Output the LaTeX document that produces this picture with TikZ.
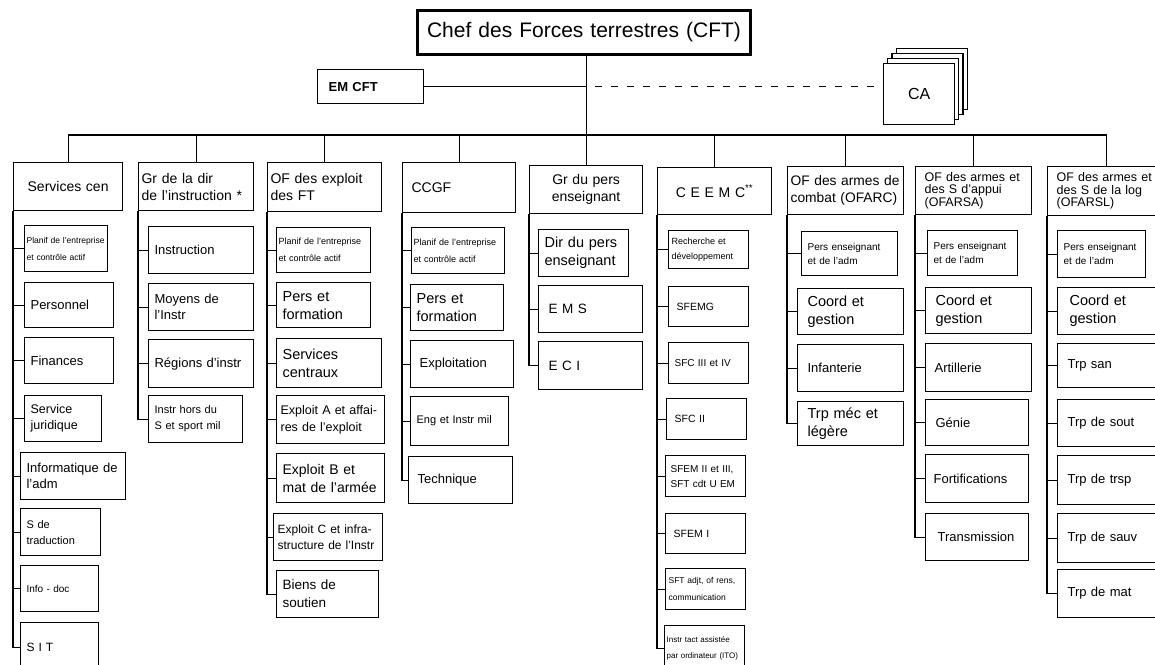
\documentclass[tikz,border=0pt]{standalone}
\usepackage{fontspec}
\setmainfont{Liberation Sans}

\begin{document}
\begin{tikzpicture}[x=1pt, y=-1pt,
  box/.style={draw, line width=1.2pt, anchor=north west, inner ysep=0pt, align=left},
  unit/.style 2 args={box, minimum width=#1, minimum height=#2, text width=#1-12, inner xsep=6pt, font=\fontsize{13}{16}\selectfont},
  tinyunit/.style 2 args={box, minimum width=#1, minimum height=#2, text width=#1-4, inner xsep=2pt, font=\fontsize{8.5}{17}\selectfont},
  head/.style 2 args={box, minimum width=#1, minimum height=#2, text width=#1-6, inner xsep=3pt, font=\fontsize{14}{17}\selectfont},
  fs/.style 2 args={font=\fontsize{#1}{#2}\selectfont},
  link/.style={line width=1.2pt}]
\useasboundingbox (0,0) rectangle (1155,664);
\clip (0,0) rectangle (1155,664);

% top of the chart
\node[box, line width=3pt, minimum width=333, minimum height=44, text width=323, align=center, fs={21}{24}] (u100) at (416,9) {Chef des Forces terrestres (CFT)};
\node[unit={106}{34}, fs={13}{15}, inner xsep=11pt, text width=84] (u101) at (317,69) {\bfseries EM CFT};
\foreach \d in {3,2,1}
  \draw[line width=1.1pt, fill=white] (883+4.5*\d,63-4.7*\d) rectangle ++(71,61);
\node[unit={71}{61}, fill=white, align=center, fs={16}{18}] (u102) at (883,63) {CA};
\coordinate (bus) at (0,135);

% column heads
\node[head={109}{48}, align=center] (u10) at (13,162) {Services cen};
\node[head={115}{48}] (u20) at (138,162) {Gr de la dir\\de l'instruction *};
\node[head={114}{49}] (u30) at (267,162) {OF des exploit\\des FT};
\node[head={113}{50}, inner xsep=9pt, text width=95] (u40) at (402,162) {CCGF};
\node[head={113}{48}, align=center] (u50) at (529,165) {Gr du pers\\enseignant};
\node[head={114}{47}, align=center] (u60) at (657,167) {C E E M C\textsuperscript{**}};
\node[head={116}{48}, fs={13.8}{17}] (u70) at (787,166) {OF des armes de\\combat (OFARC)};
\node[head={116}{48}, fs={12.5}{12.5}, inner xsep=9pt, text width=98] (u80) at (915,166) {OF des armes et\\des S d'appui\\(OFARSA)};
\node[head={118}{49}, fs={12.5}{12.5}, inner xsep=9pt, text width=100] (u90) at (1047,166) {OF des armes et\\des S de la log\\(OFARSL)};

% Services cen
\node[tinyunit={83}{46}] (u11) at (24,225) {Planif de l'entreprise\\et contrôle actif};
\node[unit={89}{45}] (u12) at (24,282) {Personnel};
\node[unit={89}{46}] (u13) at (24,337) {Finances};
\node[unit={77}{46}, fs={12.5}{16}] (u14) at (24,395) {Service\\juridique};
\node[unit={105}{47}] (u15) at (20,452) {Informatique de\\l'adm};
\node[unit={80}{47}, fs={11}{16}] (u16) at (20,508) {S de\\traduction};
\node[unit={78}{46}, fs={10}{12}] (u17) at (20,565) {Info - doc};
\node[unit={78}{50}, fs={12}{14}] (u18) at (20,622) {S I T};

% Gr de la dir de l'instruction
\node[unit={105}{47}] (u21) at (148,226) {Instruction};
\node[unit={105}{47}] (u22) at (148,283) {Moyens de\\l'Instr};
\node[unit={105}{48}] (u23) at (148,339) {Régions d'instr};
\node[unit={94}{47}, fs={11}{16}] (u24) at (148,395) {Instr hors du\\S et sport mil};

% OF des exploit des FT
\node[tinyunit={94}{45}, fs={9}{17}] (u31) at (276,227) {Planif de l'entreprise\\et contrôle actif};
\node[unit={94}{45}, fs={14.5}{18}] (u32) at (276,282) {Pers et\\formation};
\node[unit={105}{49}, fs={14.5}{18}] (u33) at (276,338) {Services\\centraux};
\node[unit={108}{48}, fs={12.5}{17}, inner xsep=4pt, text width=100] (u34) at (276,395) {Exploit A et affai-\\res de l'exploit};
\node[unit={108}{49}, fs={14}{18}] (u35) at (276,453) {Exploit B et\\mat de l'armée};
\node[unit={109}{47}, fs={12}{16}, inner xsep=4pt, text width=101] (u36) at (273,513) {Exploit C et infra-\\structure de l'Instr};
\node[unit={102}{47}, fs={13.5}{18}] (u37) at (276,570) {Biens de\\soutien};

% CCGF
\node[tinyunit={93}{46}, fs={9}{17}] (u41) at (411,227) {Planif de l'entreprise\\et contrôle actif};
\node[unit={93}{46}, fs={14.5}{18}] (u42) at (410,284) {Pers et\\formation};
\node[unit={103}{47}, inner xsep=9pt, text width=85] (u43) at (410,340) {Exploitation};
\node[unit={98}{49}, fs={11}{14}] (u44) at (410,396) {Eng et Instr mil};
\node[unit={104}{47}, inner xsep=9pt, text width=86] (u45) at (408,456) {Technique};

% Gr du pers enseignant
\node[unit={90}{47}, fs={14.5}{18}] (u51) at (538,229) {Dir du pers\\enseignant};
\node[unit={104}{47}, fs={13.5}{16}, inner xsep=10pt, text width=84] (u52) at (538,285) {E M S};
\node[unit={104}{48}, fs={13.5}{16}, inner xsep=10pt, text width=84] (u53) at (538,341) {E C I};

% CEEMC
\node[tinyunit={80}{38}, fs={9}{15}, inner xsep=3pt, text width=74] (u61) at (668,230) {Recherche et\\développement};
\node[unit={80}{40}, fs={10.5}{13}, inner xsep=8pt, text width=64] (u62) at (668,286) {SFEMG};
\node[unit={80}{41}, fs={10}{13}] (u63) at (668,342) {SFC III et IV};
\node[unit={80}{41}, fs={10.5}{13}, inner xsep=8pt, text width=64] (u64) at (666,398) {SFC II};
\node[unit={80}{41}, fs={10}{15}, inner xsep=5pt, text width=70] (u65) at (665,455) {SFEM II et III,\\SFT cdt U EM};
\node[unit={80}{40}, fs={10.5}{13}, inner xsep=8pt, text width=64] (u66) at (665,513) {SFEM I};
\node[tinyunit={80}{41}, inner xsep=3pt, text width=74] (u67) at (665,568) {SFT adjt, of rens,\\communication};
\node[tinyunit={80}{45}, fs={8}{16}] (u68) at (664,625) {Instr tact assistée\\par ordinateur (ITO)};

% OFARC
\node[unit={96}{44}, fs={10}{14}] (u71) at (801,231) {Pers enseignant\\et de l'adm};
\node[unit={106}{46}, fs={14.5}{18}, inner xsep=10pt, text width=86] (u72) at (797,288) {Coord et\\gestion};
\node[unit={106}{47}, inner xsep=10pt, text width=86] (u73) at (797,344) {Infanterie};
\node[unit={106}{44}, fs={14.5}{18}, inner xsep=10pt, text width=86] (u74) at (797,401) {Trp méc et\\légère};

% OFARSA
\node[unit={90}{45}, fs={10}{14}] (u81) at (927,230) {Pers enseignant\\et de l'adm};
\node[unit={106}{46}, fs={14.5}{18}, inner xsep=10pt, text width=86] (u82) at (925,287) {Coord et\\gestion};
\node[unit={106}{48}, inner xsep=9pt, text width=88] (u83) at (925,343) {Artillerie};
\node[unit={103}{46}, inner xsep=10pt, text width=83] (u84) at (925,399) {Génie};
\node[unit={103}{48}, inner xsep=8pt, text width=87] (u85) at (925,454) {Fortifications};
\node[unit={103}{47}, inner xsep=12pt, text width=79] (u86) at (925,513) {Transmission};

% OFARSL
\node[unit={88}{47}, fs={10}{14}] (u91) at (1057,230) {Pers enseignant\\et de l'adm};
\node[unit={110}{47}, fs={14.5}{18}, inner xsep=12pt, text width=86] (u92) at (1057,287) {Coord et\\gestion};
\node[unit={110}{44}, inner xsep=10pt, text width=90] (u93) at (1057,343) {Trp san};
\node[unit={110}{47}, inner xsep=10pt, text width=90] (u94) at (1057,399) {Trp de sout};
\node[unit={110}{49}, inner xsep=10pt, text width=90] (u95) at (1057,455) {Trp de trsp};
\node[unit={110}{49}, inner xsep=10pt, text width=90] (u96) at (1057,513) {Trp de sauv};
\node[unit={110}{48}, inner xsep=10pt, text width=90] (u97) at (1057,569) {Trp de mat};

% connectors
\draw[link] (u10.north |- bus) -- (u90.north |- bus);
\draw[link] (u100.south -| u50.north) -- (u50.north);
\draw[link] (u101.east) -- (u101.east -| u50.north);
\draw[link, dash pattern=on 7pt off 9pt] (u101.east -| u50.north) ++(9,0) -- (u101.east -| u102.west);
\foreach \h in {u10,u20,u30,u40,u60,u70,u80,u90}
  \draw[link] (\h.north) -- (\h.north |- bus);
\foreach \c in {u11,u12,u13,u14,u15,u16,u17,u18} \draw[link] (u10.south west) |- (\c.west);
\foreach \c in {u21,u22,u23,u24} \draw[link] (u20.south west) |- (\c.west);
\foreach \c in {u31,u32,u33,u34,u35,u36,u37} \draw[link] (u30.south west) |- (\c.west);
\foreach \c in {u41,u42,u43,u44,u45} \draw[link] (u40.south west) |- (\c.west);
\foreach \c in {u51,u52,u53} \draw[link] (u50.south west) |- (\c.west);
\foreach \c in {u61,u62,u63,u64,u65,u66,u67,u68} \draw[link] (u60.south west) |- (\c.west);
\foreach \c in {u71,u72,u73,u74} \draw[link] (u70.south west) |- (\c.west);
\foreach \c in {u81,u82,u83,u84,u85,u86} \draw[link] (u80.south west) |- (\c.west);
\foreach \c in {u91,u92,u93,u94,u95,u96,u97} \draw[link] (u90.south west) |- (\c.west);
\end{tikzpicture}
\end{document}
